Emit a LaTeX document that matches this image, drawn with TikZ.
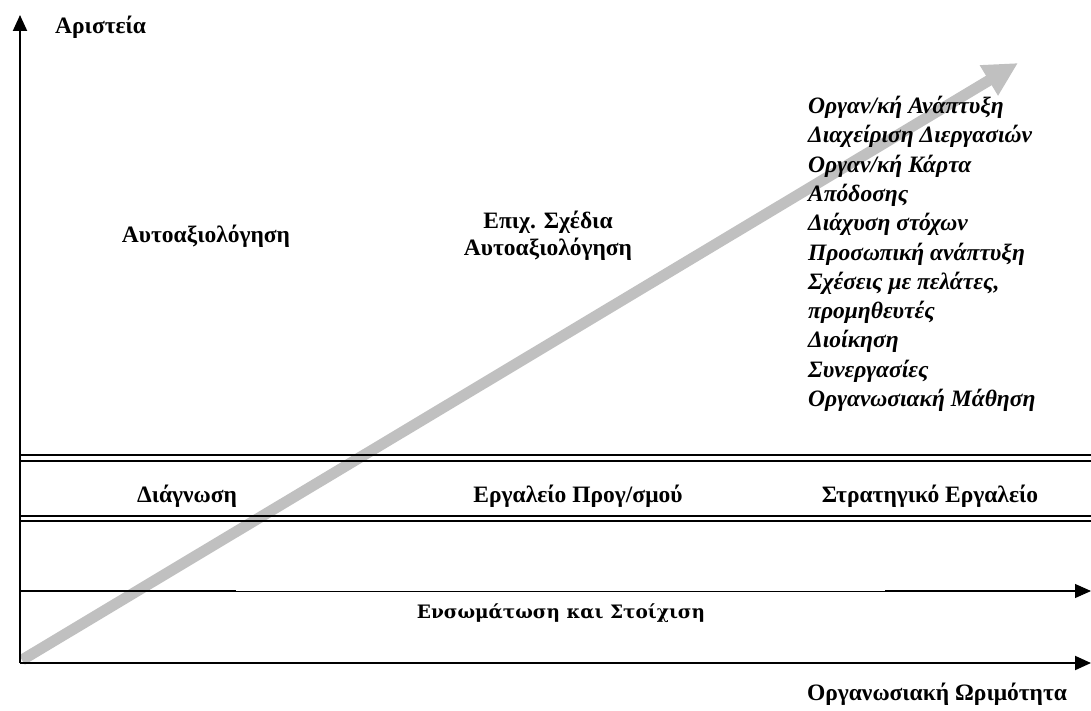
\documentclass[tikz,border=0pt]{standalone}
\usepackage{fontspec}
\setmainfont{Liberation Serif}
\newfontfamily\slabfont{DejaVu Serif}
\usetikzlibrary{arrows.meta}
\definecolor{trendgray}{RGB}{192,192,192}
\begin{document}
\begin{tikzpicture}[x=1pt,y=-1pt,
  axis/.style={line width=2pt,-{Triangle[length=16pt,width=14pt]}},
  band/.style={line width=2pt},
  lbl/.style={font=\bfseries\fontsize{23.5}{27}\selectfont,inner sep=0pt,text height=16pt,text depth=5pt},
  item/.style={font=\bfseries\itshape\fontsize{23.5}{28}\selectfont,inner sep=0pt,anchor=west,text height=16pt,text depth=5pt},
  trend/.style={line width=11pt,trendgray,-{Triangle[length=34pt,width=33pt]}}]
\useasboundingbox (0,0) rectangle (1091,711);

% axes and reference points
\coordinate (O) at (20,663);
\coordinate (ytop) at (20,15);
\coordinate (xend) at (1091,663);
\coordinate (mstart) at (20,591);
\coordinate (mend) at (1091,591);
\coordinate (tstart) at (22,660);
\coordinate (ttip) at (1018,63);

% rising trend arrow
\draw[trend] (tstart) -- (ttip);

% vertical axis
\draw[axis] (O) -- (ytop);
% horizontal axis
\draw[axis] (O) -- (xend);

% integration line
\draw[line width=1pt,-{Triangle[length=16pt,width=14pt]}] (mstart) -- (mend);
\draw[line width=2pt] (mstart) -- (236,591);
\draw[line width=2pt] (885,591) -- (1078,591);

% double band lines
\draw[band] (20,455) -- (1091,455);
\draw[band] (20,461) -- (1091,461);
\draw[band] (20,516) -- (1091,516);
\draw[band] (20,521) -- (1091,521);

% labels
\node[lbl,anchor=west] (aristeia) at (55,28) {Αριστεία};
\node[lbl] (autoa) at (206,237) {Αυτοαξιολόγηση};
\node[lbl,align=center] (epix) at (548,250) {Επιχ. Σχέδια\\Αυτοαξιολόγηση};
\node[lbl] (diag) at (187,497) {Διάγνωση};
\node[lbl] (ergal) at (578,497) {Εργαλείο Προγ/σμού};
\node[lbl] (strat) at (930,497) {Στρατηγικό Εργαλείο};
\node[lbl,font=\slabfont\bfseries\fontsize{18.5}{22}\selectfont] (ensom) at (561,613) {Ενσωμάτωση και Στοίχιση};
\node[lbl] (orgw) at (937,695) {Οργανωσιακή Ωριμότητα};

% list of excellence areas
\foreach \t [count=\i from 0] in {Οργαν/κή Ανάπτυξη,Διαχείριση Διεργασιών,Οργαν/κή Κάρτα,Απόδοσης,Διάχυση στόχων,Προσωπική ανάπτυξη,{Σχέσεις με πελάτες,},προμηθευτές,Διοίκηση,Συνεργασίες,Οργανωσιακή Μάθηση}
  \node[item] (li\i) at (808,{108+29.3*\i}) {\t};
\end{tikzpicture}
\end{document}
